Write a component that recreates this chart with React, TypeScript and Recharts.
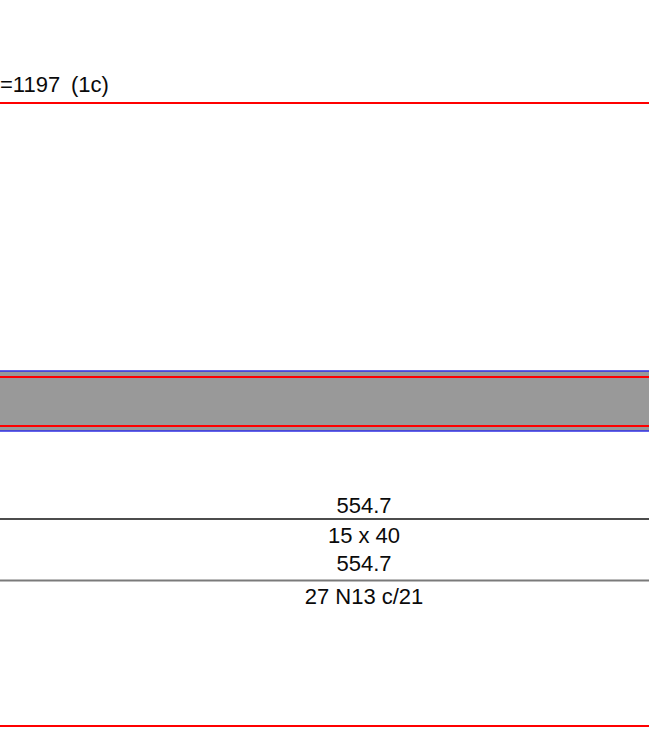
import { ComposedChart, XAxis, YAxis, ReferenceLine, ReferenceArea, Scatter } from "recharts"

// drawing levels (y measured downward, same units as the sheet)
const redLevels = [103, 377, 426, 726]
const blueLevels = [371, 431]
const sectionBand = [371, 431]
const blackLevels = [519]
const greyLevels = [580.5]

// annotations
const labelTexts = ["=1197", "(1c)", "554.7", "15 x 40", "554.7", "27 N13 c/21"]
const labelX = [0, 71, 364, 364, 364, 364]
const labelY = [92, 92, 512.5, 543.3, 570.7, 604.3]
const labelAnchor = ["start", "start", "middle", "middle", "middle", "middle"]

const labels = labelTexts.map((text, i) => ({
  x: labelX[i],
  y: labelY[i],
  text,
  anchor: labelAnchor[i],
}))

function LabelShape(props: any) {
  const { cx, cy, payload } = props
  return (
    <text
      x={cx}
      y={cy}
      textAnchor={payload.anchor}
      fontFamily="'Liberation Sans', Arial, sans-serif"
      fontSize={22}
      fill="#0a0a0a"
    >
      {payload.text}
    </text>
  )
}

export default function App() {
  return (
    <div style={{ position: "absolute", left: 0, top: 0 }}>
      <ComposedChart width={649} height={740} margin={{ top: 0, right: 0, bottom: 0, left: 0 }}>
        <XAxis type="number" dataKey="x" domain={[0, 649]} hide />
        <YAxis type="number" dataKey="y" domain={[0, 740]} reversed hide width={0} />
        <ReferenceArea
          y1={sectionBand[0]}
          y2={sectionBand[1]}
          fill="#999999"
          fillOpacity={1}
          stroke="none"
        />
        {blueLevels.map((v, i) => (
          <ReferenceLine key={"b" + i} y={v} stroke="#2f2fe6" strokeWidth={1.5} />
        ))}
        {redLevels.map((v, i) => (
          <ReferenceLine key={"r" + i} y={v} stroke="#ff0000" strokeWidth={2} />
        ))}
        {blackLevels.map((v, i) => (
          <ReferenceLine key={"k" + i} y={v} stroke="#111111" strokeWidth={1.3} />
        ))}
        {greyLevels.map((v, i) => (
          <ReferenceLine key={"g" + i} y={v} stroke="#7a7a7a" strokeWidth={1.8} />
        ))}
        <Scatter data={labels} dataKey="y" shape={LabelShape} isAnimationActive={false} />
      </ComposedChart>
    </div>
  )
}
